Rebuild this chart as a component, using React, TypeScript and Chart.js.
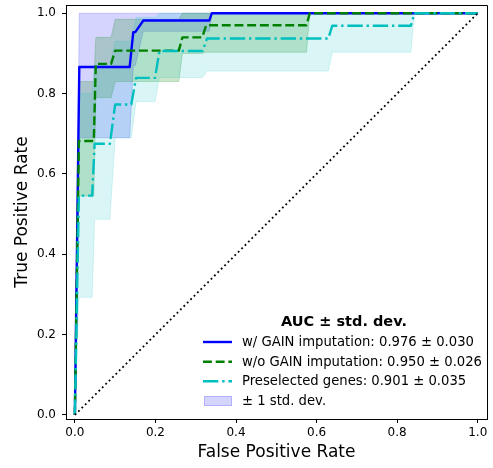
import React, { useEffect, useRef } from "react";
import { Chart, registerables } from "chart.js";

Chart.register(...registerables);

const FONT = "'DejaVu Sans', 'Liberation Sans', sans-serif";

// Axis ticks
const xTickValues = [0, 0.2, 0.4, 0.6, 0.8, 1.0];
const yTickValues = [0, 0.2, 0.4, 0.6, 0.8, 1.0];

// Mean ROC: w/ GAIN imputation
const gainFpr = [0, 0.011, 0.136, 0.145, 0.15, 0.17, 0.334, 0.34, 1];
const gainTpr = [0, 0.866, 0.866, 0.953, 0.953, 0.982, 0.982, 1, 1];
const gainUpper = [0, 1, 1, 1, 1, 1, 1, 1, 1];
const gainLower = [0, 0.69, 0.69, 0.87, 0.87, 0.955, 0.955, 1, 1];

// Mean ROC: w/o GAIN imputation
const noGainFpr = [0, 0.01, 0.047, 0.052, 0.09, 0.1, 0.258, 0.267, 0.316, 0.326, 0.575, 0.583, 1];
const noGainTpr = [0, 0.682, 0.682, 0.874, 0.874, 0.907, 0.907, 0.94, 0.94, 0.97, 0.97, 1, 1];
const noGainUpper = [0, 0.83, 0.83, 0.94, 0.94, 0.985, 0.985, 1, 1, 1, 1, 1, 1];
const noGainLower = [0, 0.545, 0.545, 0.79, 0.79, 0.83, 0.83, 0.9, 0.9, 0.903, 0.903, 1, 1];

// Mean ROC: preselected genes
const preselFpr = [0, 0.01, 0.043, 0.049, 0.087, 0.1, 0.14, 0.152, 0.199, 0.21, 0.317, 0.328, 0.629, 0.639, 0.834, 0.843, 1];
const preselTpr = [0, 0.546, 0.546, 0.675, 0.675, 0.773, 0.773, 0.839, 0.839, 0.906, 0.906, 0.937, 0.937, 0.969, 0.969, 1, 1];
const preselUpper = [0, 0.8, 0.8, 0.87, 0.87, 0.93, 0.93, 0.99, 0.99, 1, 1, 1, 1, 1, 1, 1, 1];
const preselLower = [0, 0.293, 0.293, 0.487, 0.487, 0.69, 0.69, 0.78, 0.78, 0.84, 0.84, 0.856, 0.856, 0.903, 0.903, 1, 1];

// Chance diagonal
const diagX = [0, 1];
const diagY = [0, 1];

const legendTitle = "AUC \u00b1 std. dev.";
const legendLabels = [
  "w/ GAIN imputation: 0.976 \u00b1 0.030",
  "w/o GAIN imputation: 0.950 \u00b1 0.026",
  "Preselected genes: 0.901 \u00b1 0.035",
  "\u00b1 1 std. dev.",
];

const BLUE = "#0000ff";
const GREEN = "#008000";
const CYAN = "#00bfbf";
const BLUE_BAND = "rgba(0,0,255,0.17)";
const GREEN_BAND = "rgba(0,128,0,0.2)";
const CYAN_BAND = "rgba(0,191,191,0.15)";
const LW = 2.4;
const DASH = [8.9, 3.8];
const DASHDOT = [15.4, 3.8, 2.4, 3.8];

const pts = (xs: number[], ys: number[]) => xs.map((x, i) => ({ x, y: ys[i] }));

const bandPair = (xs: number[], up: number[], lo: number[], color: string, order: number) => [
  {
    data: pts(xs, up),
    borderColor: color,
    borderWidth: 1,
    pointRadius: 0,
    fill: false,
    order,
  },
  {
    data: pts(xs, lo),
    borderColor: color,
    borderWidth: 1,
    backgroundColor: color,
    pointRadius: 0,
    fill: "-1",
    order,
  },
];

const lineSet = (xs: number[], ys: number[], color: string, dash: number[], order: number) => ({
  data: pts(xs, ys),
  borderColor: color,
  borderWidth: LW,
  borderDash: dash,
  borderCapStyle: "butt" as const,
  borderJoinStyle: "round" as const,
  pointRadius: 0,
  fill: false,
  order,
});

const framePlugin = {
  id: "frame",
  afterDraw(chart: any) {
    const { ctx, chartArea } = chart;
    ctx.save();
    ctx.strokeStyle = "#000";
    ctx.lineWidth = 1;
    ctx.beginPath();
    ctx.moveTo(chartArea.left, chartArea.top + 0.5);
    ctx.lineTo(chartArea.right + 0.5, chartArea.top + 0.5);
    ctx.lineTo(chartArea.right + 0.5, chartArea.bottom);
    ctx.stroke();
    ctx.restore();
  },
};

const legendPlugin = {
  id: "rocLegend",
  afterDraw(chart: any) {
    const { ctx } = chart;
    ctx.save();
    ctx.fillStyle = "#000";
    ctx.textBaseline = "middle";
    ctx.textAlign = "center";
    ctx.font = `bold 14.5px ${FONT}`;
    ctx.fillText(legendTitle, 344, 322);

    const x0 = 203;
    const x1 = 232;
    const tx = 242;
    const rows = [342, 361.7, 381.2, 400.8];
    const colors = [BLUE, GREEN, CYAN];
    const dashes = [[], DASH, DASHDOT];
    ctx.lineCap = "butt";
    for (let i = 0; i < 3; i++) {
      ctx.beginPath();
      ctx.strokeStyle = colors[i];
      ctx.lineWidth = LW;
      ctx.setLineDash(dashes[i]);
      ctx.moveTo(x0, rows[i]);
      ctx.lineTo(x1, rows[i]);
      ctx.stroke();
    }
    ctx.setLineDash([]);
    ctx.fillStyle = BLUE_BAND;
    ctx.fillRect(204, 396, 28, 10);
    ctx.strokeStyle = BLUE_BAND;
    ctx.lineWidth = 1;
    ctx.strokeRect(204.5, 396.5, 27, 9);

    ctx.fillStyle = "#000";
    ctx.textAlign = "left";
    ctx.font = `13.2px ${FONT}`;
    for (let i = 0; i < 4; i++) {
      ctx.fillText(legendLabels[i], tx, rows[i] + 0.5);
    }
    ctx.restore();
  },
};

export default function App() {
  const ref = useRef<HTMLCanvasElement | null>(null);

  useEffect(() => {
    document.body.style.margin = "0";
    const canvas = ref.current;
    if (!canvas) return;

    const datasets: any[] = [
      ...bandPair(gainFpr, gainUpper, gainLower, BLUE_BAND, 30),
      ...bandPair(noGainFpr, noGainUpper, noGainLower, GREEN_BAND, 20),
      ...bandPair(preselFpr, preselUpper, preselLower, CYAN_BAND, 10),
      lineSet(gainFpr, gainTpr, BLUE, [], 3),
      lineSet(noGainFpr, noGainTpr, GREEN, DASH, 2),
      lineSet(preselFpr, preselTpr, CYAN, DASHDOT, 1),
      {
        data: pts(diagX, diagY),
        borderColor: "#000",
        borderWidth: 1.8,
        borderDash: [1.8, 3.0],
        borderCapStyle: "butt",
        pointRadius: 0,
        fill: false,
        order: 0,
      },
    ];

    const axisCommon = (ticks: number[]) => ({
      type: "linear" as const,
      afterBuildTicks: (scale: any) => {
        scale.ticks = ticks.map((v) => ({ value: v }));
      },
      ticks: {
        font: { family: FONT, size: 12 },
        color: "#000",
        callback: (v: any) => Number(v).toFixed(1),
        autoSkip: false,
        maxRotation: 0,
      },
      grid: {
        display: true,
        drawOnChartArea: false,
        drawTicks: true,
        tickLength: 4,
        tickColor: "#000",
        tickWidth: 1,
      },
      border: { display: true, color: "#000", width: 1 },
    });

    const xAxis: any = axisCommon(xTickValues);
    xAxis.min = -0.022;
    xAxis.max = 1.023;
    xAxis.ticks.padding = 3;
    xAxis.title = {
      display: true,
      text: "False Positive Rate",
      font: { family: FONT, size: 17 },
      color: "#000",
      padding: { top: 0, bottom: 5 },
    };
    xAxis.afterFit = (scale: any) => {
      scale.height = 49;
      scale.paddingLeft = 0;
      scale.paddingRight = 0;
    };

    const yAxis: any = axisCommon(yTickValues);
    yAxis.min = -0.01;
    yAxis.max = 1.0205;
    yAxis.ticks.padding = 6;
    yAxis.title = {
      display: true,
      text: "True Positive Rate",
      font: { family: FONT, size: 17 },
      color: "#000",
      padding: { top: 12, bottom: 0 },
    };
    yAxis.afterFit = (scale: any) => {
      scale.width = 66;
      scale.paddingTop = 0;
      scale.paddingBottom = 0;
    };

    const chart = new Chart(canvas, {
      type: "line",
      data: { datasets },
      options: {
        responsive: false,
        animation: false,
        devicePixelRatio: 1,
        parsing: true,
        layout: { padding: { top: 5, right: 6, left: 0, bottom: 0 } },
        elements: { line: { tension: 0 } },
        plugins: {
          legend: { display: false },
          tooltip: { enabled: false },
          filler: { propagate: false },
        },
        scales: { x: xAxis, y: yAxis },
      },
      plugins: [framePlugin, legendPlugin],
    } as any);

    return () => chart.destroy();
  }, []);

  return (
    <div style={{ width: 493, height: 468 }}>
      <canvas ref={ref} width={493} height={468} />
    </div>
  );
}
